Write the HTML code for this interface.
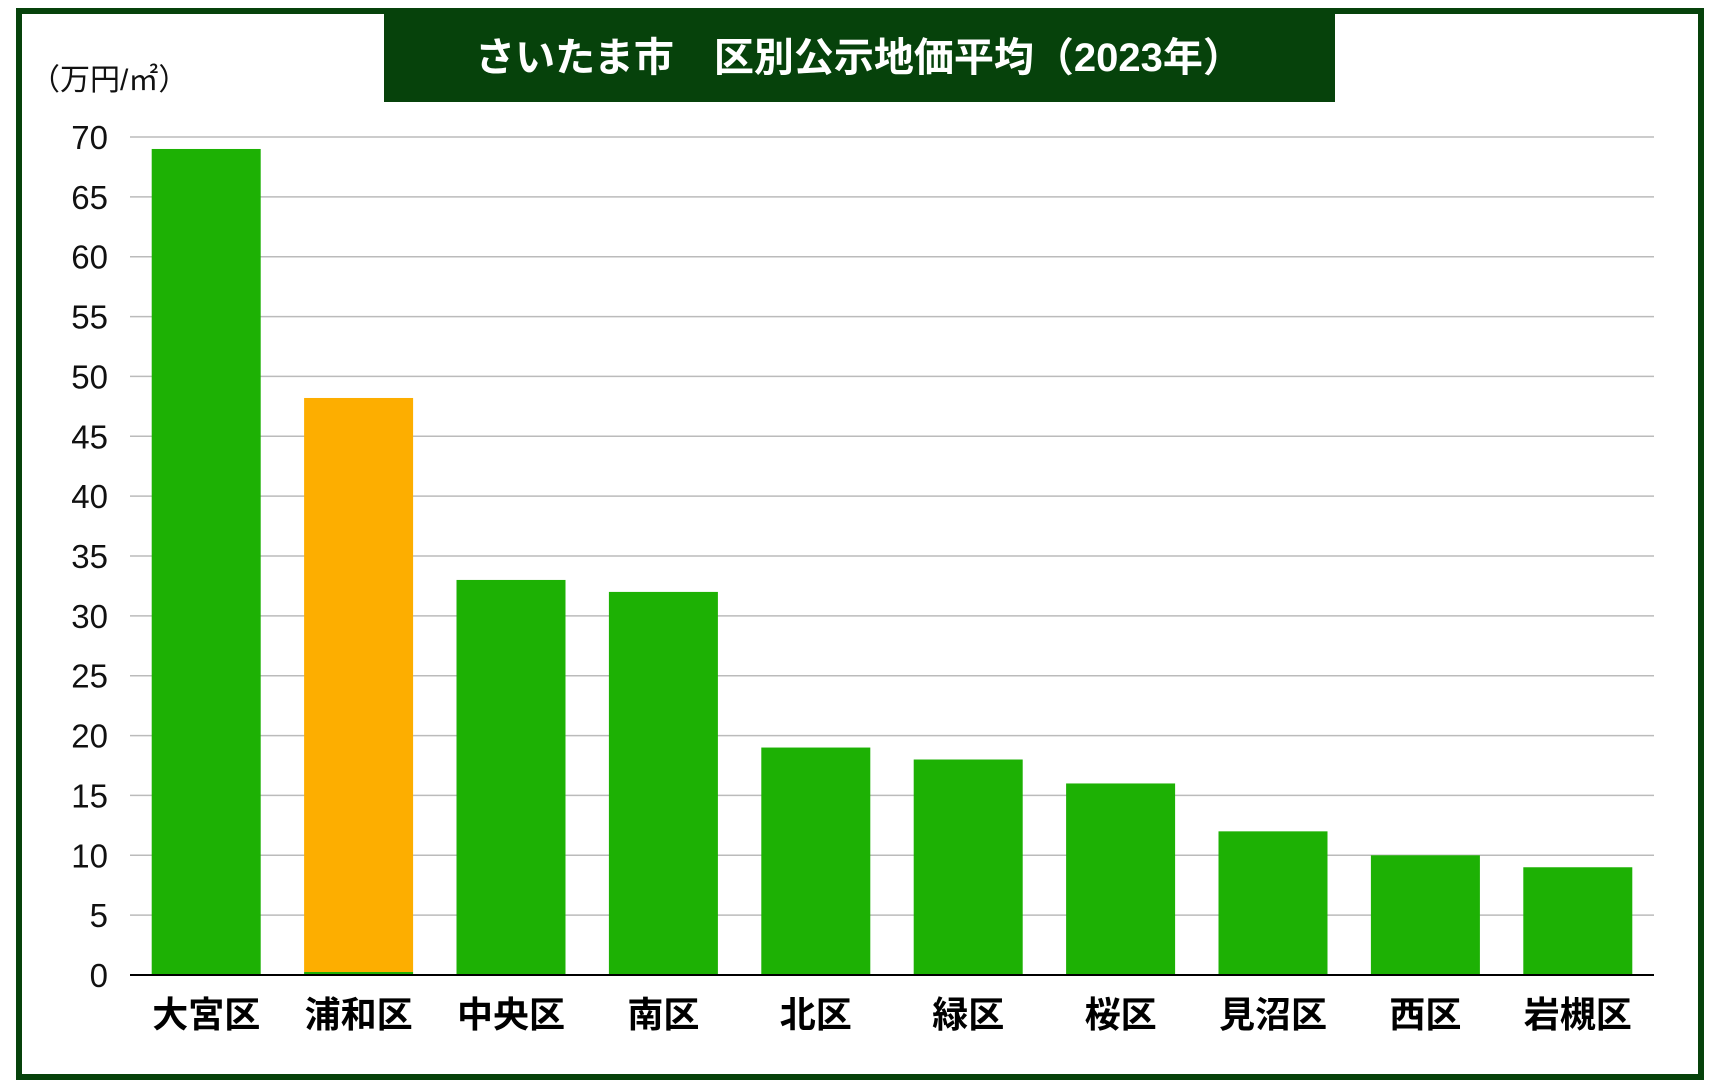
<!DOCTYPE html>
<html><head><meta charset="utf-8"><style>
html,body{margin:0;padding:0;background:#fff;}
svg{display:block;font-family:"Liberation Sans","Noto Sans CJK JP",sans-serif;}
</style></head><body>
<svg width="1717" height="1092" viewBox="0 0 1717 1092">
<rect x="19" y="11" width="1682" height="1066" fill="#fff" stroke="#06420b" stroke-width="6"/>
<rect x="384" y="14" width="951" height="88" fill="#06420b"/>
<text x="859" y="71" text-anchor="middle" font-size="40" font-weight="bold" fill="#fff">さいたま市　区別公示地価平均（2023年）</text>
<text x="30" y="90" font-size="30" fill="#111">（万円/㎡）</text>
<g id="grid"></g><g id="bars"></g><g id="ticks"></g><g id="xlabels"></g>
<line x1="130" y1="975" x2="1654" y2="975" stroke="#000" stroke-width="2"/>
</svg>
<script>
const categories=["大宮区","浦和区","中央区","南区","北区","緑区","桜区","見沼区","西区","岩槻区"];
const values=[69,48.2,33,32,19,18,16,12,10,9];
const highlight=[false,true,false,false,false,false,false,false,false,false];
const yTicks=[0,5,10,15,20,25,30,35,40,45,50,55,60,65,70];
const urawaBase=0.25;
const NS="http://www.w3.org/2000/svg";
const L=130,R=1654,T=137,B=975,YMAX=70;
const y=v=>B-(v/YMAX)*(B-T);
const slot=(R-L)/categories.length, bw=109;
const xc=i=>L+slot*(i+0.5);
function mk(tag,attrs,parent){const e=document.createElementNS(NS,tag);for(const k in attrs)e.setAttribute(k,attrs[k]);document.getElementById(parent).appendChild(e);return e;}
yTicks.forEach(t=>{
  if(t>0){const g=mk("line",{x1:L,x2:R,y1:y(t),y2:y(t),stroke:"#bbb","stroke-width":1.5},"grid");
  
  }
  const tx=mk("text",{x:108,y:y(t)+12,"text-anchor":"end","font-size":33,fill:"#111"},"ticks");
  tx.textContent=t;
  
  
});
categories.forEach((c,i)=>{
  const x=xc(i)-bw/2;
  if(highlight[i]){
    const g=mk("rect",{x:x,y:y(urawaBase),width:bw,height:B-y(urawaBase),fill:"#1db104"},"bars");
    
    
    const r=mk("rect",{x:x,y:y(values[i]),width:bw,height:y(urawaBase)-y(values[i]),fill:"#fdae00"},"bars");
    
    
  }else{
    const r=mk("rect",{x:x,y:y(values[i]),width:bw,height:B-y(values[i]),fill:"#1db104"},"bars");
    
    
  }
  const t=mk("text",{x:xc(i),y:1027,"text-anchor":"middle","font-size":36,"font-weight":"bold",fill:"#000"},"xlabels");
  t.textContent=c;
  
  
});
</script>
</body></html>
